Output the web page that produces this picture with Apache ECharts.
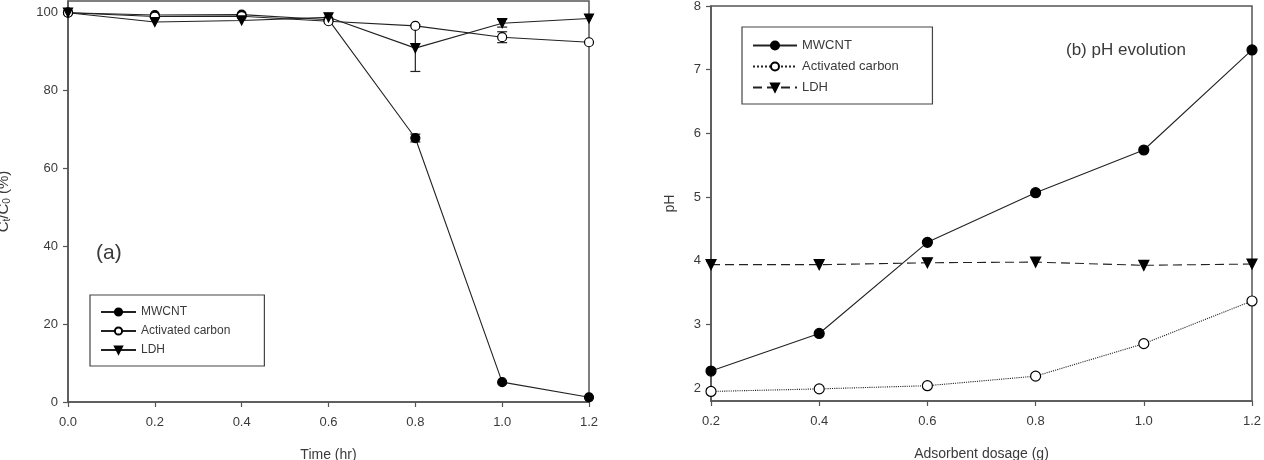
<!DOCTYPE html>
<html>
<head>
<meta charset="utf-8">
<script src="https://cdn.jsdelivr.net/npm/echarts@6/dist/echarts.min.js"></script>
<style>
  html, body { margin: 0; padding: 0; background: #fff; }
  #chart { width: 1264px; height: 460px; }
</style>
</head>
<body>
<div id="chart"></div>
<script>
// --- data ---
const timeHr = [0.0, 0.2, 0.4, 0.6, 0.8, 1.0, 1.2];
const removalMWCNT = [100, 99.4, 99.5, 98.2, 67.8, 5.1, 1.2];
const removalAC = [100, 99.0, 99.1, 97.8, 96.6, 93.7, 92.4];
const removalLDH = [100, 97.6, 98.0, 98.8, 90.9, 97.3, 98.5];
// [x, low, high]
const errLDH = [[0.8, 84.9, 96.9], [1.0, 96.3, 98.3]];
const errAC = [[1.0, 92.3, 95.1]];
const errMWCNT = [[0.8, 66.8, 68.8]];

const dosageG = [0.2, 0.4, 0.6, 0.8, 1.0, 1.2];
const phMWCNT = [2.27, 2.86, 4.29, 5.07, 5.74, 7.31];
const phAC = [1.95, 1.99, 2.04, 2.19, 2.70, 3.37];
const phLDH = [3.94, 3.94, 3.97, 3.98, 3.93, 3.95];

const ticksA_x = [0, 0.2, 0.4, 0.6, 0.8, 1.0, 1.2];
const ticksA_y = [0, 20, 40, 60, 80, 100];
const ticksB_x = [0.2, 0.4, 0.6, 0.8, 1.0, 1.2];
const ticksB_y = [2, 3, 4, 5, 6, 7, 8];

// --- style ---
const FONT = 'Liberation Sans, Arial, sans-serif';
const INK = '#222';
const AXIS = '#555';
const TXT = '#3a3a3a';
const triDown = 'path://M0,0 L10,0 L5,8.66 Z';

const pair = (xs, ys) => xs.map((x, i) => [x, ys[i]]);

const axisCommon = {
  axisLine: { show: true, lineStyle: { color: AXIS, width: 1.5 } },
  axisTick: { show: true, inside: false, length: 5, lineStyle: { color: AXIS, width: 1.2 } },
  axisLabel: { color: TXT, fontSize: 13, fontFamily: FONT, margin: 14 },
  splitLine: { show: false },
  nameTextStyle: { color: TXT, fontSize: 14, fontFamily: FONT },
};

function xAxis(gi, min, max, ticks, name) {
  return {
    type: 'value', gridIndex: gi, min, max, ...axisCommon,
    axisLabel: { ...axisCommon.axisLabel, customValues: ticks, formatter: v => v.toFixed(1) },
    axisTick: { ...axisCommon.axisTick, customValues: ticks },
    name, nameLocation: 'middle', nameGap: 46,
  };
}

function errBars(gi, data, cap) {
  return {
    type: 'custom', xAxisIndex: gi, yAxisIndex: gi, data, z: 1, silent: true,
    renderItem: (params, api) => {
      const x = api.value(0);
      const lo = api.coord([x, api.value(1)]);
      const hi = api.coord([x, api.value(2)]);
      const st = { stroke: INK, lineWidth: 1.2 };
      return {
        type: 'group',
        children: [
          { type: 'line', shape: { x1: lo[0], y1: lo[1], x2: hi[0], y2: hi[1] }, style: st },
          { type: 'line', shape: { x1: lo[0] - cap, y1: lo[1], x2: lo[0] + cap, y2: lo[1] }, style: st },
          { type: 'line', shape: { x1: hi[0] - cap, y1: hi[1], x2: hi[0] + cap, y2: hi[1] }, style: st },
        ],
      };
    },
  };
}

function lineSeries(gi, name, data, symbol, size, filled, lineType) {
  return {
    type: 'line', name, xAxisIndex: gi, yAxisIndex: gi, data,
    symbol, symbolSize: size, showAllSymbol: true, z: 3,
    lineStyle: { color: INK, width: 1.1, type: lineType || 'solid' },
    itemStyle: { color: filled ? '#000' : '#fff', borderColor: '#000', borderWidth: 1.2 },
    emphasis: { disabled: true },
  };
}

const chart = echarts.init(document.getElementById('chart'), null, { renderer: 'canvas' });

chart.setOption({
  animation: false,
  textStyle: { fontFamily: FONT },
  grid: [
    { left: 68, top: 1, width: 521, height: 401, outerBoundsMode: 'none', containLabel: false,
      show: true, borderColor: AXIS, borderWidth: 1.5, backgroundColor: 'transparent' },
    { left: 711, top: 6, width: 541, height: 395, outerBoundsMode: 'none', containLabel: false,
      show: true, borderColor: AXIS, borderWidth: 1.5, backgroundColor: 'transparent' },
  ],
  xAxis: [
    xAxis(0, 0, 1.2, ticksA_x, 'Time (hr)'),
    xAxis(1, 0.2, 1.2, ticksB_x, 'Adsorbent dosage (g)'),
  ],
  yAxis: [
    {
      type: 'value', gridIndex: 0, min: 0, max: 103, ...axisCommon,
      axisLabel: { ...axisCommon.axisLabel, margin: 10, customValues: ticksA_y },
      axisTick: { ...axisCommon.axisTick, customValues: ticksA_y },
      name: '{m|C}{s|t}{m|/C}{s|0}{m| (%)}', nameLocation: 'middle', nameGap: 56,
      nameTextStyle: {
        rich: {
          m: { fontSize: 15, color: TXT, fontFamily: FONT },
          s: { fontSize: 10, color: TXT, fontFamily: FONT, verticalAlign: 'bottom', padding: [7, 0, 0, 0] },
        },
      },
    },
    {
      type: 'value', gridIndex: 1, min: 1.8, max: 8, ...axisCommon,
      axisLabel: { ...axisCommon.axisLabel, margin: 10, customValues: ticksB_y },
      axisTick: { ...axisCommon.axisTick, customValues: ticksB_y },
      name: 'pH', nameLocation: 'middle', nameGap: 34,
    },
  ],
  legend: [
    {
      left: 90, top: 295, orient: 'vertical', padding: [11, 34, 10, 10], itemGap: 7,
      itemWidth: 35, itemHeight: 9, borderColor: '#444', borderWidth: 1.2,
      data: ['MWCNT', 'Activated carbon', 'LDH'],
      textStyle: { color: TXT, fontSize: 12, fontFamily: FONT },
      selectedMode: false,
    },
    {
      left: 742, top: 27, orient: 'vertical', padding: [12, 30, 10, 10], itemGap: 8,
      itemWidth: 44, itemHeight: 10, borderColor: '#444', borderWidth: 1.2,
      data: ['MWCNT ', 'Activated carbon ', 'LDH '],
      textStyle: { color: TXT, fontSize: 13, fontFamily: FONT },
      selectedMode: false,
    },
  ],
  graphic: [
    { type: 'text', left: 96, top: 243, style: { text: '(a)', fontSize: 21, fill: TXT, fontFamily: FONT } },
    { type: 'text', left: 1066, top: 42, style: { text: '(b) pH evolution', fontSize: 17, fill: TXT, fontFamily: FONT } },
  ],
  series: [
    errBars(0, errLDH, 5),
    errBars(0, errAC, 5),
    errBars(0, errMWCNT, 5),
    lineSeries(0, 'MWCNT', pair(timeHr, removalMWCNT), 'circle', 9, true),
    lineSeries(0, 'Activated carbon', pair(timeHr, removalAC), 'circle', 9, false),
    lineSeries(0, 'LDH', pair(timeHr, removalLDH), triDown, 9, true),
    lineSeries(1, 'MWCNT ', pair(dosageG, phMWCNT), 'circle', 10, true),
    lineSeries(1, 'Activated carbon ', pair(dosageG, phAC), 'circle', 10, false, 'dotted'),
    lineSeries(1, 'LDH ', pair(dosageG, phLDH), triDown, 10, true, [9, 5]),
  ],
});
</script>
</body>
</html>
